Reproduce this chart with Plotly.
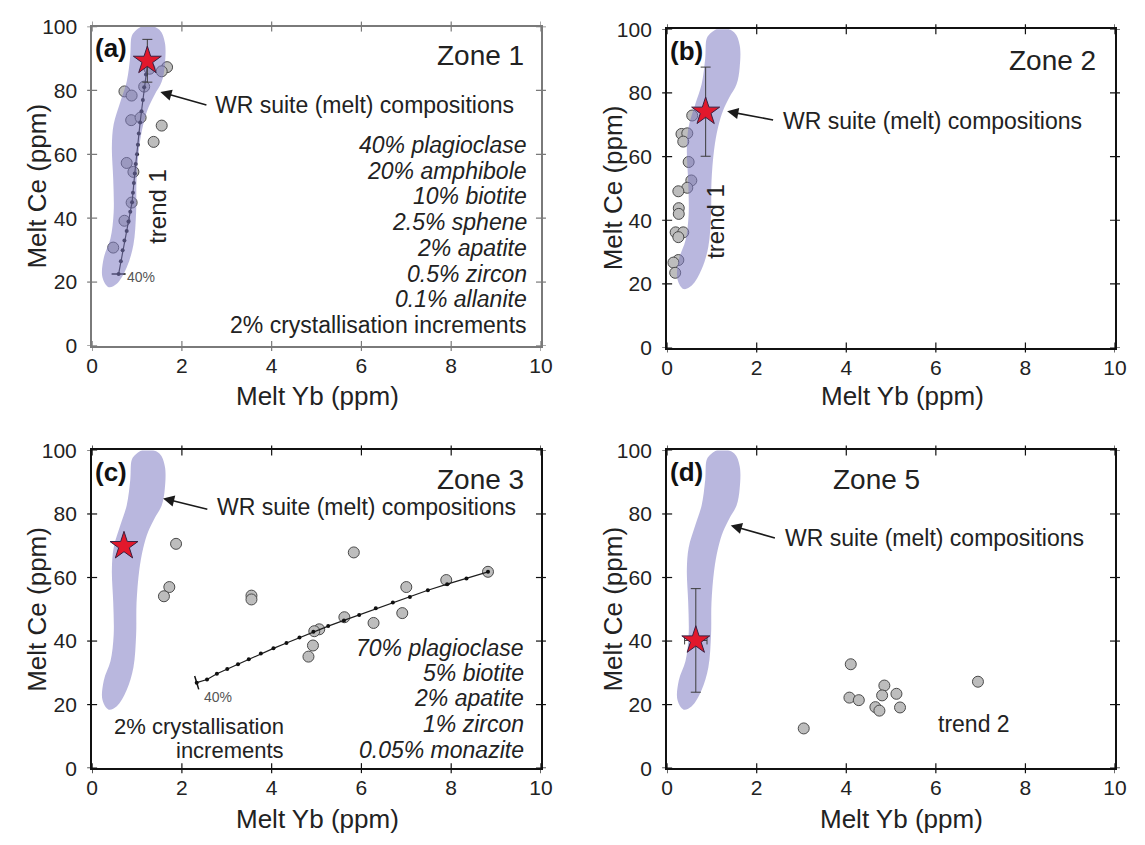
import plotly.graph_objects as go

W, H = 1145, 845
FONT = "Liberation Sans, Arial, sans-serif"

x_ticks = [0, 2, 4, 6, 8, 10]
y_ticks = [0, 20, 40, 60, 80, 100]

# WR suite (melt) composition field, outline traced clockwise (Yb, Ce)
wr_yb = [0.95, 1.20, 1.50, 1.62, 1.62, 1.55, 1.39, 1.25, 1.14, 1.05, 0.99, 0.98, 0.92,
         0.77, 0.55, 0.37, 0.23, 0.26, 0.41, 0.48, 0.47, 0.44, 0.48, 0.63, 0.77, 0.85,
         0.88, 0.95]
wr_ce = [98.5, 100.5, 99.0, 95.0, 88.0, 82.7, 78.6, 74.5, 69.4, 62.3, 52.1, 41.9, 31.7,
         24.6, 19.5, 18.4, 21.5, 27.6, 33.7, 41.9, 52.1, 62.3, 69.4, 76.5, 82.7, 90.8,
         96.9, 98.5]

# Zone 1 samples
z1_yb = [1.67, 1.55, 1.28, 1.16, 0.72, 0.88, 0.87, 1.08, 1.55, 1.37, 0.77, 0.92, 0.88, 0.72, 0.47]
z1_ce = [87.3, 86.0, 86.8, 81.2, 79.7, 78.4, 70.7, 71.5, 69.0, 63.9, 57.3, 54.5, 44.9, 39.2, 30.8]
z1_star = (1.23, 89.3, 6.7)
# trend 1 fractionation model, 2% steps from the parent melt to 40% crystallised
t1_yb = [1.24, 1.20, 1.16, 1.13, 1.10, 1.07, 1.04, 1.02, 1.00, 0.97, 0.95,
         0.93, 0.91, 0.89, 0.85, 0.81, 0.77, 0.72, 0.68, 0.64, 0.59]
t1_ce = [89.0, 85.0, 81.0, 77.0, 73.5, 70.0, 66.5, 63.0, 60.0, 57.0, 54.0,
         51.0, 48.0, 45.0, 42.0, 39.0, 36.0, 33.0, 30.0, 26.5, 22.5]

# Zone 2 samples
z2_yb = [0.56, 0.32, 0.45, 0.36, 0.48, 0.54, 0.45, 0.25, 0.26, 0.26, 0.19, 0.36, 0.25, 0.25, 0.14, 0.18]
z2_ce = [72.9, 67.1, 67.3, 64.7, 58.3, 52.5, 50.2, 49.1, 43.8, 42.0, 36.2, 36.2, 34.7, 27.5, 26.7, 23.5]
z2_star = (0.86, 74.1, 14.0)

# Zone 3 samples
z3_yb = [1.87, 1.72, 1.60, 3.55, 3.55, 5.83, 8.82, 7.89, 7.00, 5.62, 6.91, 6.27, 5.06, 4.95, 4.92, 4.82]
z3_ce = [70.6, 57.0, 54.1, 54.3, 53.1, 67.9, 61.8, 59.2, 57.0, 47.5, 48.8, 45.7, 43.7, 43.1, 38.6, 35.1]
z3_star = (0.71, 69.9)
# Zone 3 fractionation model, from 40% crystallised up to the parent melt
t3_yb = [2.33, 2.56, 2.78, 3.01, 3.25, 3.49, 3.76, 4.04, 4.33, 4.62, 4.93,
         5.26, 5.61, 5.95, 6.32, 6.70, 7.08, 7.48, 7.91, 8.34, 8.82]
t3_ce = [26.9, 27.9, 29.7, 31.2, 32.7, 34.3, 36.1, 37.7, 39.4, 41.1, 42.9,
         44.7, 46.5, 48.2, 50.3, 52.1, 53.9, 56.0, 57.9, 59.7, 61.8]

# Zone 5 samples
z5_yb = [4.10, 4.07, 4.28, 4.85, 4.80, 5.12, 4.65, 4.74, 5.20, 6.94, 3.05]
z5_ce = [32.7, 22.2, 21.4, 26.0, 22.9, 23.4, 19.2, 18.1, 19.1, 27.2, 12.5]
z5_star = (0.64, 40.2, 16.3, 0.25)

zone1_minerals = ["40% plagioclase", "20% amphibole", "10% biotite", "2.5% sphene",
                  "2% apatite", "0.5% zircon", "0.1% allanite"]
zone3_minerals = ["70% plagioclase", "5% biotite", "2% apatite", "1% zircon", "0.05% monazite"]

# plot-area rectangles in pixels: left, right, top, bottom
panel_px = {
    1: (87.5, 543.5, 15.0, 343.3),
    2: (671.7, 1126.7, 17.7, 345.0),
    3: (87.5, 543.5, 450.7, 777.3),
    4: (671.7, 1126.7, 450.7, 777.3),
}


def aid(prefix, i):
    return prefix if i == 1 else f"{prefix}{i}"


fig = go.Figure()

GRAY_FILL = "#bdbdbd"
GRAY_EDGE = "#4a4a4a"
BLOB = "rgba(128,124,194,0.55)"
STAR_RED = "#e2182c"
STAR_EDGE = "#3a2040"


def samples(i, xs, ys):
    fig.add_trace(go.Scatter(
        x=xs, y=ys, mode="markers", xaxis=aid("x", i), yaxis=aid("y", i),
        marker=dict(size=11, color=GRAY_FILL, line=dict(color=GRAY_EDGE, width=1)),
        hoverinfo="skip"))


def blob(i):
    fig.add_trace(go.Scatter(
        x=wr_yb, y=wr_ce, mode="lines", fill="toself", fillcolor=BLOB,
        line=dict(width=0, shape="spline", smoothing=1.0, color=BLOB),
        xaxis=aid("x", i), yaxis=aid("y", i), hoverinfo="skip"))


def trend(i, xs, ys, cap_index, cap_symbol, cap_angle):
    fig.add_trace(go.Scatter(
        x=xs, y=ys, mode="lines+markers", xaxis=aid("x", i), yaxis=aid("y", i),
        line=dict(color="#1e1e1e", width=1.2),
        marker=dict(size=4, color="#111111"), hoverinfo="skip"))
    fig.add_trace(go.Scatter(
        x=[xs[cap_index]], y=[ys[cap_index]], mode="markers",
        xaxis=aid("x", i), yaxis=aid("y", i),
        marker=dict(symbol=cap_symbol, size=10, angle=cap_angle,
                    line=dict(color="#111111", width=1.5)),
        hoverinfo="skip"))


def star(i, x, y, ey=None, ex=None):
    kw = {}
    if ey is not None:
        kw["error_y"] = dict(type="data", array=[ey], color="#3c3c3c", thickness=1, width=5)
    if ex is not None:
        kw["error_x"] = dict(type="data", array=[ex], color="#3c3c3c", thickness=1, width=4)
    fig.add_trace(go.Scatter(
        x=[x], y=[y], mode="markers", xaxis=aid("x", i), yaxis=aid("y", i),
        marker=dict(symbol="star", size=21, color=STAR_RED,
                    line=dict(color=STAR_EDGE, width=1)),
        hoverinfo="skip", **kw))


# panel (a)
samples(1, z1_yb, z1_ce)
trend(1, t1_yb, t1_ce, len(t1_yb) - 1, "line-ew", 0)
blob(1)
star(1, z1_star[0], z1_star[1], ey=z1_star[2])

# panel (b)
samples(2, z2_yb, z2_ce)
blob(2)
star(2, z2_star[0], z2_star[1], ey=z2_star[2])

# panel (c)
samples(3, z3_yb, z3_ce)
trend(3, t3_yb, t3_ce, 0, "line-ns", -17)
blob(3)
star(3, z3_star[0], z3_star[1])

# panel (d)
samples(4, z5_yb, z5_ce)
blob(4)
star(4, z5_star[0], z5_star[1], ey=z5_star[2], ex=z5_star[3])

layout = dict(
    width=W, height=H, margin=dict(l=0, r=0, t=0, b=0),
    paper_bgcolor="white", plot_bgcolor="white", showlegend=False,
    font=dict(family=FONT, color="#222222"),
)

shapes = []
TICK_HALF = 5  # crossing tick marks reach this many pixels either side of the frame

for i in range(1, 5):
    l, r, t, b = panel_px[i]
    xdom = [l / W, r / W]
    ydom = [1 - b / H, 1 - t / H]
    col = "#7a7a7a" if i == 1 else "#111111"
    lw = 1.5 if i == 1 else 2.2
    common = dict(showgrid=False, zeroline=False, ticks="",
                  tickfont=dict(size=21, color="#222222"))
    layout[aid("xaxis", i)] = dict(
        domain=xdom, range=[0, 10], tickvals=x_ticks, ticktext=[str(v) for v in x_ticks],
        anchor=aid("y", i), showline=True, linecolor=col, linewidth=lw, mirror=True,
        ticklabelstandoff=0, **common)
    layout[aid("yaxis", i)] = dict(
        domain=ydom, range=[0, 100], tickvals=y_ticks, ticktext=[str(v) for v in y_ticks],
        anchor=aid("x", i), showline=True, linecolor=col, linewidth=lw, mirror=True,
        ticklabelstandoff=9, **common)

    # tick marks crossing the frame on all four sides
    for v in x_ticks:
        for edge in (0, 1):
            shapes.append(dict(type="line", xref=aid("x", i), yref=f"{aid('y', i)} domain",
                               x0=v, x1=v, ysizemode="pixel", yanchor=edge,
                               y0=-TICK_HALF, y1=TICK_HALF,
                               line=dict(color=col, width=1.2), layer="above"))
    for v in y_ticks:
        for edge in (0, 1):
            shapes.append(dict(type="line", yref=aid("y", i), xref=f"{aid('x', i)} domain",
                               y0=v, y1=v, xsizemode="pixel", xanchor=edge,
                               x0=-TICK_HALF, x1=TICK_HALF,
                               line=dict(color=col, width=1.2), layer="above"))

layout["shapes"] = shapes
fig.update_layout(**layout)

ann = []


def text(i, x, y, s, size=23, xanchor="left", italic=False, bold=False, color="#222222",
         angle=0):
    if italic:
        s = f"<i>{s}</i>"
    if bold:
        s = f"<b>{s}</b>"
    ann.append(dict(x=x, y=y, xref=aid("x", i), yref=aid("y", i), text=s, showarrow=False,
                    xanchor=xanchor, yanchor="middle", textangle=angle,
                    font=dict(size=size, color=color, family=FONT)))


def arrow(i, tip, tail):
    ann.append(dict(x=tip[0], y=tip[1], ax=tail[0], ay=tail[1],
                    xref=aid("x", i), yref=aid("y", i), axref=aid("x", i), ayref=aid("y", i),
                    text="", showarrow=True, arrowhead=2, arrowsize=1.4, arrowwidth=1.6,
                    arrowcolor="#1a1a1a", standoff=0))


# panel letters and zone names
for i, letter in zip(range(1, 5), ["(a)", "(b)", "(c)", "(d)"]):
    text(i, 0.03, 93.2, letter, size=26, bold=True, color="#111111")
text(1, 9.67, 90.9, "Zone 1", size=28, xanchor="right")
text(2, 9.62, 90.2, "Zone 2", size=28, xanchor="right")
text(3, 9.67, 90.8, "Zone 3", size=28, xanchor="right")
text(4, 5.70, 90.8, "Zone 5", size=28, xanchor="right")

# WR suite labels with arrows
arrow(1, (1.52, 79.5), (2.58, 75.3))
text(1, 2.70, 75.6, "WR suite (melt) compositions")
arrow(2, (1.34, 74.2), (2.40, 71.4))
text(2, 2.54, 71.3, "WR suite (melt) compositions")
arrow(3, (1.58, 84.9), (2.60, 81.4))
text(3, 2.74, 82.3, "WR suite (melt) compositions")
arrow(4, (1.42, 76.4), (2.44, 72.3))
text(4, 2.59, 72.5, "WR suite (melt) compositions")

# mineral assemblages
z1_rows = [62.9, 54.8, 46.9, 38.7, 30.7, 22.5, 14.6]
for s, yv in zip(zone1_minerals, z1_rows):
    text(1, 9.74, yv, s, xanchor="right", italic=True)
text(1, 9.74, 6.5, "2% crystallisation increments", xanchor="right")

z3_rows = [37.8, 29.9, 22.0, 13.9, 5.7]
for s, yv in zip(zone3_minerals, z3_rows):
    text(3, 9.67, yv, s, xanchor="right", italic=True)
text(3, 4.31, 13.2, "2% crystallisation", size=22, xanchor="right")
text(3, 4.31, 5.6, "increments", size=22, xanchor="right")

# trend labels
text(1, 1.47, 43.6, "trend 1", size=24, xanchor="center", angle=-90)
text(2, 1.09, 39.8, "trend 1", size=24, xanchor="center", angle=-90)
text(4, 6.86, 14.0, "trend 2", size=23, xanchor="center")
text(1, 0.74, 21.7, "40%", size=14, color="#555555")
text(3, 2.45, 22.5, "40%", size=14, color="#555555")

# axis titles
for px, py, s, ang in [(32, 179, "Melt Ce (ppm)", -90), (617, 181, "Melt Ce (ppm)", -90),
                       (32, 614, "Melt Ce (ppm)", -90), (617, 614, "Melt Ce (ppm)", -90),
                       (316, 395, "Melt Yb (ppm)", 0), (911, 395, "Melt Yb (ppm)", 0),
                       (316, 830, "Melt Yb (ppm)", 0), (910, 830, "Melt Yb (ppm)", 0)]:
    ann.append(dict(x=px / W, y=1 - py / H, xref="paper", yref="paper", text=s,
                    showarrow=False, xanchor="center", yanchor="middle", textangle=ang,
                    font=dict(size=26, color="#222222", family=FONT)))

fig.update_layout(annotations=ann)
fig.write_html("out.html")
